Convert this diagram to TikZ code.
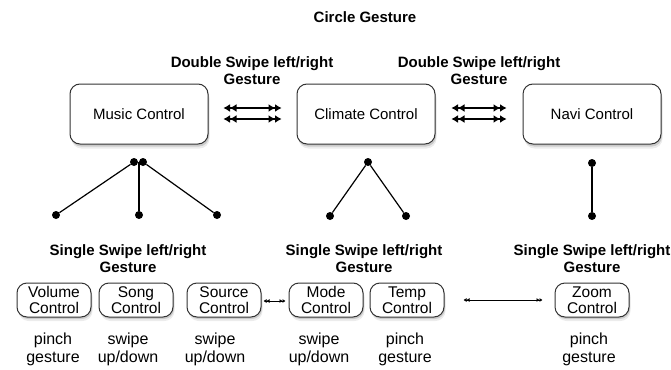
\documentclass[tikz,border=0pt]{standalone}
\usepackage{fontspec}
\setmainfont{Liberation Sans}
\usetikzlibrary{arrows.meta,shadows}
\tikzset{
	bigbox/.style = {draw = black!80, line width = 1pt, rounded corners = 10pt, fill = white,
		minimum width = 138pt, minimum height = 60pt,
		drop shadow = {shadow xshift = 1.5pt, shadow yshift = -4.5pt, opacity = .15},
		drop shadow = {shadow xshift = 1pt, shadow yshift = -2.5pt, opacity = .3},
		font = \fontsize{15}{16}\selectfont},
	smallbox/.style = {draw = black!80, line width = 1pt, rounded corners = 10pt, fill = white,
		minimum width = 74pt, minimum height = 34pt, inner sep = 0pt, align = center,
		drop shadow = {shadow xshift = 1.5pt, shadow yshift = -4pt, opacity = .15},
		drop shadow = {shadow xshift = 1pt, shadow yshift = -2pt, opacity = .3},
		font = \fontsize{15.5}{16}\selectfont},
	head/.style = {font = \fontsize{15}{17}\selectfont\bfseries, align = center},
	note/.style = {font = \fontsize{16}{18}\selectfont, align = center},
	blob/.style = {circle, fill = black, inner sep = 0pt, minimum size = 8pt},
	bigarr/.style = {>={Latex[length = 6.5pt, width = 8pt]}, <<->>, line width = 1.2pt},
	smallarr/.style = {>={Latex[length = 3pt, width = 4pt]}, <<->>, line width = .7pt},
	link/.style = {line width = 1.2pt}
}
\begin{document}
\begin{tikzpicture}[x = 1pt, y = -1pt]
	\useasboundingbox (0,0) rectangle (671,369);
	\node[head] (circle) at (365,17) {Circle Gesture};
	\node[head] (dblA) at (252,71) {Double Swipe left/right\\Gesture};
	\node[head] (dblB) at (479,71) {Double Swipe left/right\\Gesture};
	\node[bigbox] (music) at (139,114) {Music Control};
	\node[bigbox] (climate) at (366,114) {Climate Control};
	\node[bigbox] (navi) at (592,114) {Navi Control};
	\draw[bigarr] ([xshift = 15pt, yshift = 6pt]music.east) -- ([xshift = -15pt, yshift = 6pt]climate.west);
	\draw[bigarr] ([xshift = 15pt, yshift = -5pt]music.east) -- ([xshift = -15pt, yshift = -5pt]climate.west);
	\draw[bigarr] ([xshift = 16pt, yshift = 6pt]climate.east) -- ([xshift = -16pt, yshift = 6pt]navi.west);
	\draw[bigarr] ([xshift = 16pt, yshift = -5pt]climate.east) -- ([xshift = -16pt, yshift = -5pt]navi.west);
	\node[blob] (mL) at (134,162) {};
	\node[blob] (mR) at (143,162) {};
	\node[blob] (ma) at (56,215) {};
	\node[blob] (mb) at (139,215) {};
	\node[blob] (mc) at (217,215) {};
	\draw[link] (mL) -- (ma);
	\draw[link] (mb) -- (mb |- mL);
	\draw[link] (mR) -- (mc);
	\node[blob] (c0) at (368,162) {};
	\node[blob] (ca) at (330,216) {};
	\node[blob] (cb) at (406,216) {};
	\draw[link] (c0) -- (ca);
	\draw[link] (c0) -- (cb);
	\node[blob] (n0) at (592,163) {};
	\node[blob] (na) at (592,216) {};
	\draw[link] (n0) -- (na);
	\node[head] (sglA) at (128,259) {Single Swipe left/right\\Gesture};
	\node[head] (sglB) at (364,259) {Single Swipe left/right\\Gesture};
	\node[head] (sglC) at (592,259) {Single Swipe left/right\\Gesture};
	\node[smallbox] (volume) at (54,300) {Volume\\Control};
	\node[smallbox] (song) at (136,300) {Song\\Control};
	\node[smallbox] (source) at (224,300) {Source\\Control};
	\node[smallbox] (mode) at (326,300) {Mode\\Control};
	\node[smallbox] (temp) at (407,300) {Temp\\Control};
	\node[smallbox] (zoom) at (592,300) {Zoom\\Control};
	\draw[smallarr] ([xshift = 2pt, yshift = -1pt]source.east) -- ([xshift = -3pt, yshift = -1pt]mode.west);
	\draw[smallarr] ([xshift = 19pt]temp.east) -- ([xshift = -12pt]zoom.west);
	\node[note] (nVolume) at (53,349) {pinch\\gesture};
	\node[note] (nSong) at (128,349) {swipe\\up/down};
	\node[note] (nSource) at (215,349) {swipe\\up/down};
	\node[note] (nMode) at (319,349) {swipe\\up/down};
	\node[note] (nTemp) at (405,349) {pinch\\gesture};
	\node[note] (nZoom) at (589,349) {pinch\\gesture};
\end{tikzpicture}
\end{document}
